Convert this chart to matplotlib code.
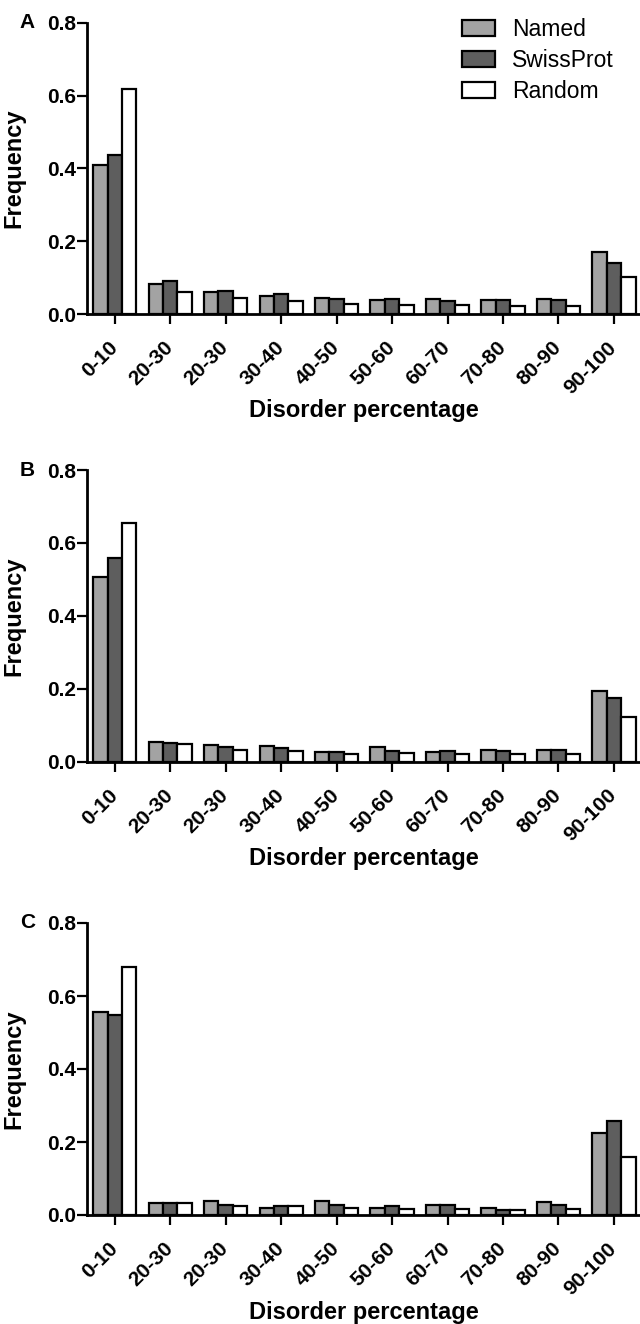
import numpy as np
import matplotlib
matplotlib.use("Agg")
import matplotlib.pyplot as plt
from matplotlib.patches import Patch

plt.rcParams['font.family'] = ['Liberation Sans', 'DejaVu Sans']

categories = ["0-10", "20-30", "20-30", "30-40", "40-50",
              "50-60", "60-70", "70-80", "80-90", "90-100"]
series_names = ["Named", "SwissProt", "Random"]

# panel A
named_a = [0.408, 0.083, 0.061, 0.050, 0.044, 0.038, 0.042, 0.039, 0.042, 0.170]
swiss_a = [0.438, 0.090, 0.064, 0.054, 0.042, 0.041, 0.036, 0.038, 0.038, 0.139]
random_a = [0.618, 0.061, 0.044, 0.036, 0.028, 0.025, 0.025, 0.022, 0.022, 0.102]

# panel B
named_b = [0.506, 0.055, 0.045, 0.043, 0.027, 0.041, 0.027, 0.033, 0.033, 0.194]
swiss_b = [0.558, 0.050, 0.039, 0.037, 0.027, 0.029, 0.028, 0.028, 0.031, 0.176]
random_b = [0.654, 0.048, 0.032, 0.029, 0.022, 0.025, 0.022, 0.020, 0.022, 0.123]

# panel C
named_c = [0.555, 0.032, 0.037, 0.019, 0.037, 0.019, 0.027, 0.019, 0.035, 0.224]
swiss_c = [0.548, 0.034, 0.027, 0.024, 0.027, 0.025, 0.028, 0.014, 0.027, 0.257]
random_c = [0.679, 0.032, 0.025, 0.024, 0.018, 0.016, 0.016, 0.015, 0.016, 0.160]

panels = [("A", named_a, swiss_a, random_a),
          ("B", named_b, swiss_b, random_b),
          ("C", named_c, swiss_c, random_c)]

colors = ["#a3a3a3", "#5e5e5e", "#ffffff"]
yticks = [0.0, 0.2, 0.4, 0.6, 0.8]

W, H = 640, 1324
fig = plt.figure(figsize=(W / 100, H / 100), dpi=100)

# axes boxes in pixels: (top, bottom)
boxes = [(22.7, 314), (470, 761.7), (923, 1215)]
left_px = 87

x = np.arange(len(categories))
w = 0.26

for (letter, named, swiss, rand), (top, bot) in zip(panels, boxes):
    ax = fig.add_axes([left_px / W, 1 - bot / H, 1 - left_px / W, (bot - top) / H])
    for i, vals in enumerate([named, swiss, rand]):
        ax.bar(x + (i - 1) * w, vals, width=w, color=colors[i],
               edgecolor="black", linewidth=1.6, label=series_names[i],
               zorder=2, clip_on=False)
    ax.set_xlim(-0.5, 9.47)
    ax.set_ylim(0, 0.8)
    ax.set_yticks(yticks)
    ax.set_yticklabels([f"{v:.1f}" for v in yticks], fontsize=15, fontweight="bold")
    ax.set_xticks(x)
    ax.set_xticklabels(categories, rotation=45, ha="right", va="center",
                       rotation_mode="anchor", fontsize=15, fontweight="bold")
    ax.tick_params(axis="both", direction="out", length=7, width=1.6)
    ax.tick_params(axis="x", pad=15)
    ax.tick_params(axis="y", pad=1)
    for s in ["top", "right"]:
        ax.spines[s].set_visible(False)
    for s in ["left", "bottom"]:
        ax.spines[s].set_linewidth(2)

    ax.set_ylabel("Frequency", fontsize=17, fontweight="bold")
    ax.yaxis.set_label_coords((25 - left_px) / (W - left_px), 0.5)
    ax.set_xlabel("Disorder percentage", fontsize=17, fontweight="bold", va="center")
    ax.xaxis.set_label_coords(0.5, -97 / (bot - top))

    ax.text((27.5 - left_px) / (W - left_px), 1.0, letter, transform=ax.transAxes,
            ha="center", va="center", fontsize=15, fontweight="bold")

    if letter == "A":
        handles = [Patch(facecolor=colors[i], edgecolor="black", linewidth=1.6)
                   for i in range(3)]
        fig.legend(handles, series_names, loc="upper left",
                   bbox_to_anchor=(462 / W, 1 - 18 / H), frameon=False,
                   fontsize=16.5, handlelength=1.45, handleheight=0.72,
                   handletextpad=0.75, labelspacing=0.35, borderpad=0,
                   borderaxespad=0)

fig.savefig("out.png", dpi=100)
